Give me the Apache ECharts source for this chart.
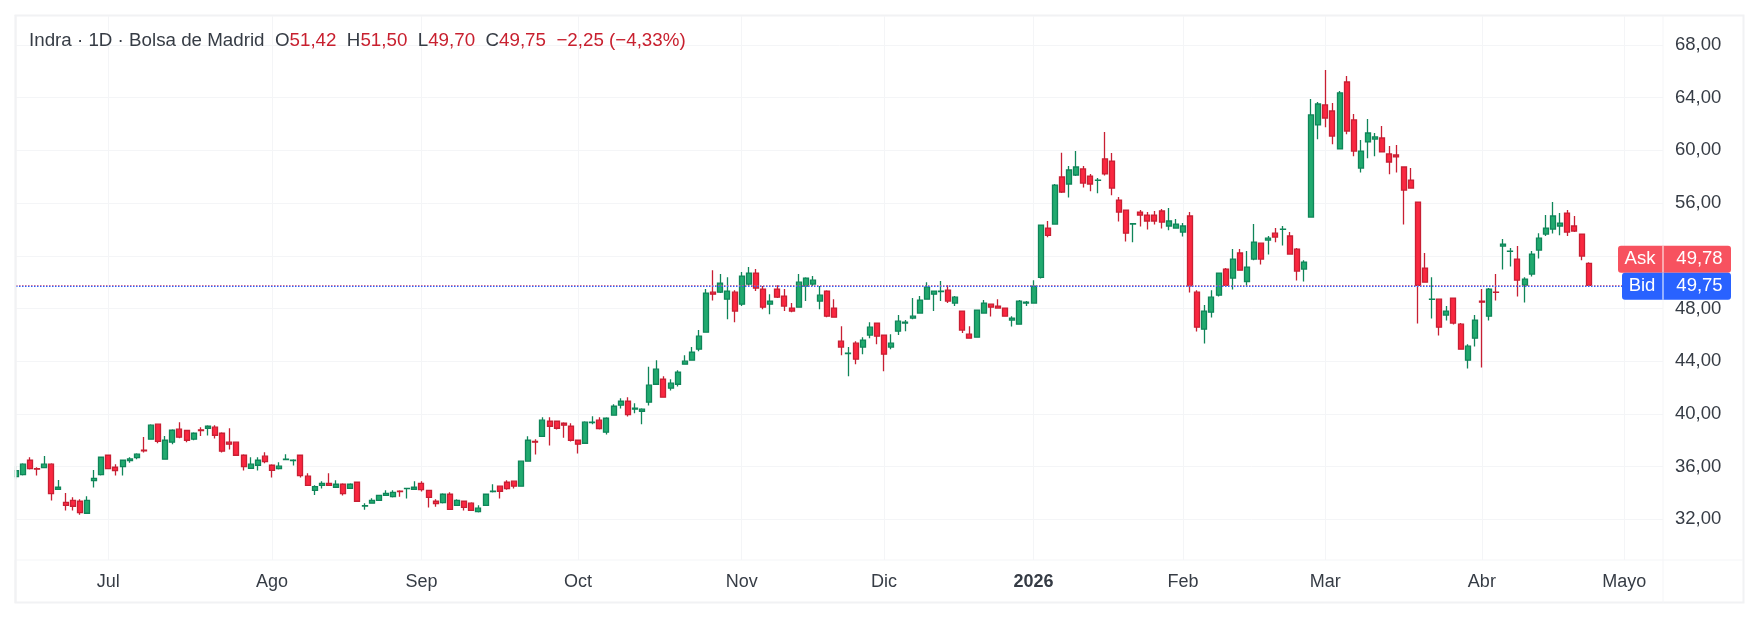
<!DOCTYPE html>
<html><head><meta charset="utf-8">
<style>html,body{margin:0;padding:0;background:#fff}#c{width:1760px;height:620px}</style>
<script src="https://cdn.jsdelivr.net/npm/echarts@6/dist/echarts.min.js"></script>
</head><body><div id="c"></div>
<script>
const opens=[35.24,35.39,36.48,35.85,35.92,36.18,34.28,33.29,33.44,33.37,32.46,34.94,35.39,36.86,35.95,36.00,36.46,36.68,37.24,38.08,39.22,36.56,37.85,38.84,38.74,38.08,38.79,38.91,38.99,38.53,37.85,37.85,36.86,35.87,36.10,36.79,36.10,35.85,36.53,36.46,36.86,35.27,34.20,34.58,34.73,34.43,34.66,34.35,34.81,33.01,33.22,33.44,33.82,33.72,34.13,34.33,34.28,34.73,34.20,33.37,33.27,33.90,33.06,33.37,33.22,32.58,33.06,34.10,34.51,34.81,34.89,34.51,36.41,37.92,38.30,39.44,39.44,39.29,39.06,38.00,37.77,39.34,39.52,38.61,39.90,40.66,40.96,40.36,40.20,40.89,42.25,42.63,41.95,42.25,43.77,44.08,44.91,46.20,49.24,49.24,48.71,49.24,48.33,49.85,50.69,49.47,48.33,49.47,48.94,48.03,48.10,49.70,49.85,48.56,49.32,48.03,45.52,44.58,45.37,45.07,45.98,46.89,45.98,45.07,46.28,46.89,47.27,47.65,48.71,49.09,49.29,49.39,48.41,47.80,46.05,45.82,47.65,48.33,48.18,48.03,47.12,46.81,48.41,48.41,50.36,54.10,54.41,57.98,57.45,58.13,58.59,58.05,57.72,59.35,59.19,56.23,55.47,54.41,55.32,55.09,55.09,55.40,54.26,54.10,53.80,55.02,49.24,46.43,47.72,49.01,50.99,50.31,52.21,50.05,51.75,52.96,53.19,53.72,54.00,53.50,52.51,50.99,54.94,61.93,63.45,62.99,60.11,65.19,62.31,58.66,60.64,60.86,60.94,59.73,59.65,58.74,57.75,56.08,51.07,48.69,48.71,47.50,48.79,46.81,44.08,45.75,48.56,47.42,49.24,52.74,52.33,51.75,49.77,50.61,52.43,53.65,54.03,54.26,55.24,54.26,53.65,51.42];
const highs=[36.05,36.25,36.71,35.95,36.81,36.25,34.99,34.00,33.67,33.52,33.75,35.75,36.74,36.88,36.18,36.50,36.71,37.01,38.25,39.22,39.24,38.33,38.84,39.37,38.76,38.61,38.99,39.14,39.14,38.61,38.91,37.87,36.94,36.71,36.71,37.09,36.18,36.33,36.94,36.56,36.88,35.49,34.58,34.89,35.49,34.96,34.73,34.73,34.83,33.22,33.60,33.84,34.20,34.20,34.20,34.37,34.89,34.89,34.22,33.52,33.97,34.05,33.52,33.39,33.29,33.06,33.92,34.66,34.53,34.96,34.91,36.43,38.30,38.08,39.75,39.75,39.46,39.37,39.29,38.02,39.44,39.82,39.75,39.75,40.74,41.19,41.27,40.81,40.43,43.57,44.08,42.86,42.63,43.32,44.46,45.07,46.36,49.47,50.91,50.61,50.38,49.39,50.76,51.14,50.99,49.70,49.09,49.77,49.47,48.41,50.61,50.38,50.46,49.70,49.39,48.71,46.66,45.07,45.52,45.82,46.96,46.91,46.00,46.05,47.50,47.12,48.79,48.94,50.00,49.34,50.08,49.77,48.94,47.82,46.66,47.90,48.64,48.35,48.71,48.05,47.42,48.64,48.56,50.15,54.35,54.64,57.45,59.83,58.81,59.95,58.81,58.21,57.90,61.40,59.80,56.46,55.49,54.48,55.47,55.32,55.40,55.55,55.62,54.79,54.48,55.32,49.39,48.26,49.39,50.71,51.07,52.51,52.51,52.36,54.41,52.98,53.50,54.10,54.26,53.80,52.59,51.67,63.90,63.67,66.11,63.60,64.51,65.65,62.76,60.79,62.38,61.32,61.85,60.33,60.41,58.76,58.66,56.10,52.21,50.38,48.73,48.18,48.81,46.89,45.29,47.50,49.47,49.55,50.61,53.27,52.59,52.74,50.38,52.36,53.72,55.09,56.08,55.24,55.47,55.02,53.67,51.50];
const lows=[35.04,35.32,35.77,35.32,35.92,33.42,34.28,32.66,32.66,32.35,32.46,34.41,35.32,35.83,35.32,35.32,36.30,36.56,37.06,38.06,37.77,36.54,37.70,38.15,37.85,38.00,38.33,38.36,38.13,37.06,37.29,36.84,35.70,35.85,35.70,36.25,35.17,35.77,36.51,36.08,35.17,34.56,33.85,34.33,34.54,34.41,33.80,34.33,33.35,32.73,33.19,33.42,33.80,33.65,33.72,33.57,34.26,34.10,32.89,32.96,33.19,32.74,33.04,32.66,32.66,32.51,33.04,34.03,33.57,34.25,34.33,34.49,36.39,36.91,38.28,37.60,38.81,38.18,37.90,36.99,37.75,39.22,38.81,38.43,39.88,40.41,39.80,40.05,39.22,40.63,42.23,41.25,41.77,42.08,43.75,44.06,44.76,46.18,48.61,49.17,47.19,46.96,48.18,49.70,49.32,47.95,47.57,48.79,47.80,47.72,48.08,48.56,49.70,47.95,47.34,47.32,44.46,42.86,43.77,44.53,45.75,45.29,43.24,44.91,45.98,46.28,47.19,47.63,48.69,47.80,48.56,48.41,48.18,46.13,45.73,45.80,47.63,47.39,48.01,47.40,46.63,46.79,48.18,48.39,50.28,53.40,54.39,56.76,56.43,58.05,57.19,56.89,56.74,58.10,56.59,54.61,53.09,53.02,54.23,54.00,54.38,54.08,53.93,54.08,53.47,49.22,46.26,45.34,47.32,48.91,49.73,49.45,50.89,49.67,51.67,51.34,52.10,53.02,52.79,52.11,50.13,50.05,54.92,60.84,61.75,60.46,60.09,61.22,59.55,58.33,59.40,59.55,59.86,58.18,58.33,54.38,57.12,46.86,49.98,47.24,45.95,47.09,46.79,44.86,43.44,45.12,43.52,47.09,48.61,50.96,51.19,48.91,48.46,50.43,51.80,53.50,53.70,53.55,53.50,53.80,51.67,49.70];
const closes=[35.70,36.18,35.85,35.80,36.18,33.95,34.43,33.06,32.99,32.51,33.44,35.11,36.71,35.85,35.70,36.48,36.58,36.94,37.19,39.14,37.92,38.00,38.76,38.23,38.00,38.53,38.74,39.06,38.38,37.17,37.70,36.86,36.00,36.18,36.48,36.38,35.72,36.03,36.56,36.48,35.32,34.58,34.48,34.73,34.58,34.66,33.95,34.66,33.37,33.04,33.44,33.82,33.97,34.05,34.10,34.35,34.43,34.25,33.67,33.19,33.90,32.76,33.44,32.91,32.68,32.84,33.90,34.13,34.13,34.33,34.51,36.41,38.00,37.85,39.52,39.06,38.91,39.14,38.00,37.70,39.37,39.37,38.89,39.67,40.58,40.96,39.95,40.43,40.36,42.18,43.39,41.27,42.33,43.17,44.00,44.69,45.90,49.17,49.09,49.93,49.32,47.80,50.46,50.69,49.55,48.10,48.56,48.86,48.18,47.80,50.00,50.31,50.15,49.01,47.42,47.34,45.07,44.61,44.15,45.60,46.58,45.90,44.53,45.37,47.04,46.96,47.42,48.64,49.62,49.32,49.32,48.56,48.86,46.36,45.75,47.88,48.41,48.10,48.03,47.42,47.27,48.56,48.48,49.70,54.33,53.55,57.37,56.84,58.51,58.74,57.52,57.45,57.75,58.21,57.14,55.32,53.72,54.43,55.09,54.64,54.64,54.56,54.64,54.41,54.26,49.72,46.58,47.80,48.86,50.69,49.75,51.75,50.91,51.14,53.04,51.75,53.34,53.42,54.03,52.13,50.84,51.52,62.69,63.52,62.46,61.09,64.36,61.47,59.95,59.95,61.32,61.02,59.88,59.12,59.50,56.99,57.14,49.75,50.00,48.71,46.58,47.80,46.89,44.91,45.14,47.12,48.48,49.47,49.22,52.89,52.36,50.15,50.23,52.13,53.34,54.10,55.02,54.48,53.80,53.88,51.98,49.75];
const monthIndex=[13,36,57,79,102,122,143,164,184,206,226];
const monthLabels=["Jul","Ago","Sep","Oct","Nov","Dic","2026","Feb","Mar","Abr","Mayo"];
const priceTicks=[32,36,40,44,48,52,56,60,64,68];
const quoteNames=["Ask","Bid"];
const quoteValues=[49.78,49.75];
const headerName="Indra · 1D · Bolsa de Madrid";
const headerOHLC=[["O","51,42"],["H","51,50"],["L","49,70"],["C","49,75"]];
const headerChange="−2,25 (−4,33%)";

const FONT='"Liberation Sans",Arial,sans-serif';
const TXT='#363c45',RED='#c8202f',GRID='#f4f5f7',FRAME='#f1f2f4';
const fmt=v=>v.toFixed(2).replace('.',',');

let header='{d|'+headerName+'  }';
headerOHLC.forEach(p=>{header+='{d|'+p[0]+'}{r|'+p[1]+'}{d|  }'});
header+='{r|'+headerChange+'}';

const chart=echarts.init(document.getElementById('c'),null,{renderer:'canvas',width:1760,height:620});
chart.setOption({
  animation:false,
  backgroundColor:'#fff',
  title:{left:29,top:30,padding:0,text:header,textStyle:{fontWeight:'normal',rich:{
    d:{color:TXT,fontSize:18.75,fontWeight:'normal',fontFamily:FONT,lineHeight:22},
    r:{color:RED,fontSize:18.75,fontWeight:'normal',fontFamily:FONT,lineHeight:22}}}},
  grid:{left:16,right:97,top:16,bottom:60},
  xAxis:{type:'value',min:0.03,max:231.45,
    axisLine:{show:false},
    axisTick:{show:false,customValues:monthIndex},
    splitLine:{show:true,lineStyle:{color:GRID,width:1}},
    axisLabel:{customValues:monthIndex,margin:13,fontFamily:FONT,fontSize:18,color:TXT,
      formatter:v=>{const s=monthLabels[monthIndex.indexOf(v)];return s==='2026'?'{b|'+s+'}':s},
      rich:{b:{fontWeight:'bold',fontFamily:FONT,fontSize:18,color:TXT}}}},
  yAxis:{type:'value',position:'right',min:28.91,max:70.2,
    axisLine:{show:false},
    axisTick:{show:false,customValues:priceTicks},
    splitLine:{show:true,lineStyle:{color:GRID,width:1}},
    axisLabel:{customValues:priceTicks,margin:12,fontFamily:FONT,fontSize:18.5,color:TXT,formatter:v=>fmt(v)}},
  graphic:{elements:[
    {type:'rect',silent:true,z:-1,shape:{x:15.5,y:15.5,width:1728,height:587},style:{fill:'none',stroke:FRAME,lineWidth:2}},
    {type:'line',silent:true,z:-1,shape:{x1:16,y1:560,x2:1743,y2:560},style:{stroke:GRID,lineWidth:1}},
    {type:'line',silent:true,z:-1,shape:{x1:1663,y1:16,x2:1663,y2:603},style:{stroke:GRID,lineWidth:1}},
    {type:'rect',silent:true,z:30,shape:{x:0,y:16,width:14.5,height:544},style:{fill:'#fff'}},
    {type:'line',silent:true,z:31,shape:{x1:15.5,y1:15,x2:15.5,y2:603},style:{stroke:FRAME,lineWidth:2}}
  ]},
  series:[
    {type:'candlestick',barWidth:5.5,clip:true,
     encode:{x:0,y:[1,2,3,4]},
     data:opens.map((o,i)=>[i,o,closes[i],lows[i],highs[i]]),
     itemStyle:{color:'#21aa6f',color0:'#fa2740',borderColor:'#0f8559',borderColor0:'#c81f33',borderWidth:1.3}},
    {type:'custom',z:20,silent:true,coordinateSystem:'cartesian2d',
     encode:{x:0,y:1},
     data:quoteValues.map((v,i)=>[231,v]),
     renderItem:(params,api)=>{
       const i=params.dataIndex,cs=params.coordSys;
       const X=cs.x+cs.width;
       const rawY=api.coord([0,quoteValues[1]])[1];
       const bidY=rawY+0.8;
       const cy=i===0?bidY-27:bidY;
       const H=26.8,leftW=i===0?45:41,rightW=68;
       const col=i===0?'#f7525f':'#2962ff';
       const rowY=Math.floor(rawY)+(i===0?0.6:1.3);
       return {type:'group',children:[
         {type:'line',shape:{x1:cs.x,y1:rowY,x2:X-41,y2:rowY},style:{stroke:col,lineWidth:i===0?0.9:1.2,lineDash:[1.5,1.5]}},
         {type:'rect',shape:{x:X-leftW,y:cy-H/2,width:leftW+rightW,height:H,r:3},style:{fill:col}},
         {type:'rect',shape:{x:X-0.5,y:cy-H/2,width:1,height:H},style:{fill:'#fff'}},
         {type:'text',style:{x:X-leftW/2-0.5,y:cy,text:quoteNames[i],fill:'#fff',font:'18.5px '+FONT,align:'center',verticalAlign:'middle'}},
         {type:'text',style:{x:X+rightW/2+2.5,y:cy-0.5,text:fmt(quoteValues[i]),fill:'#fff',font:'18.5px '+FONT,align:'center',verticalAlign:'middle'}}
       ]};
     }}
  ]
});
</script></body></html>
